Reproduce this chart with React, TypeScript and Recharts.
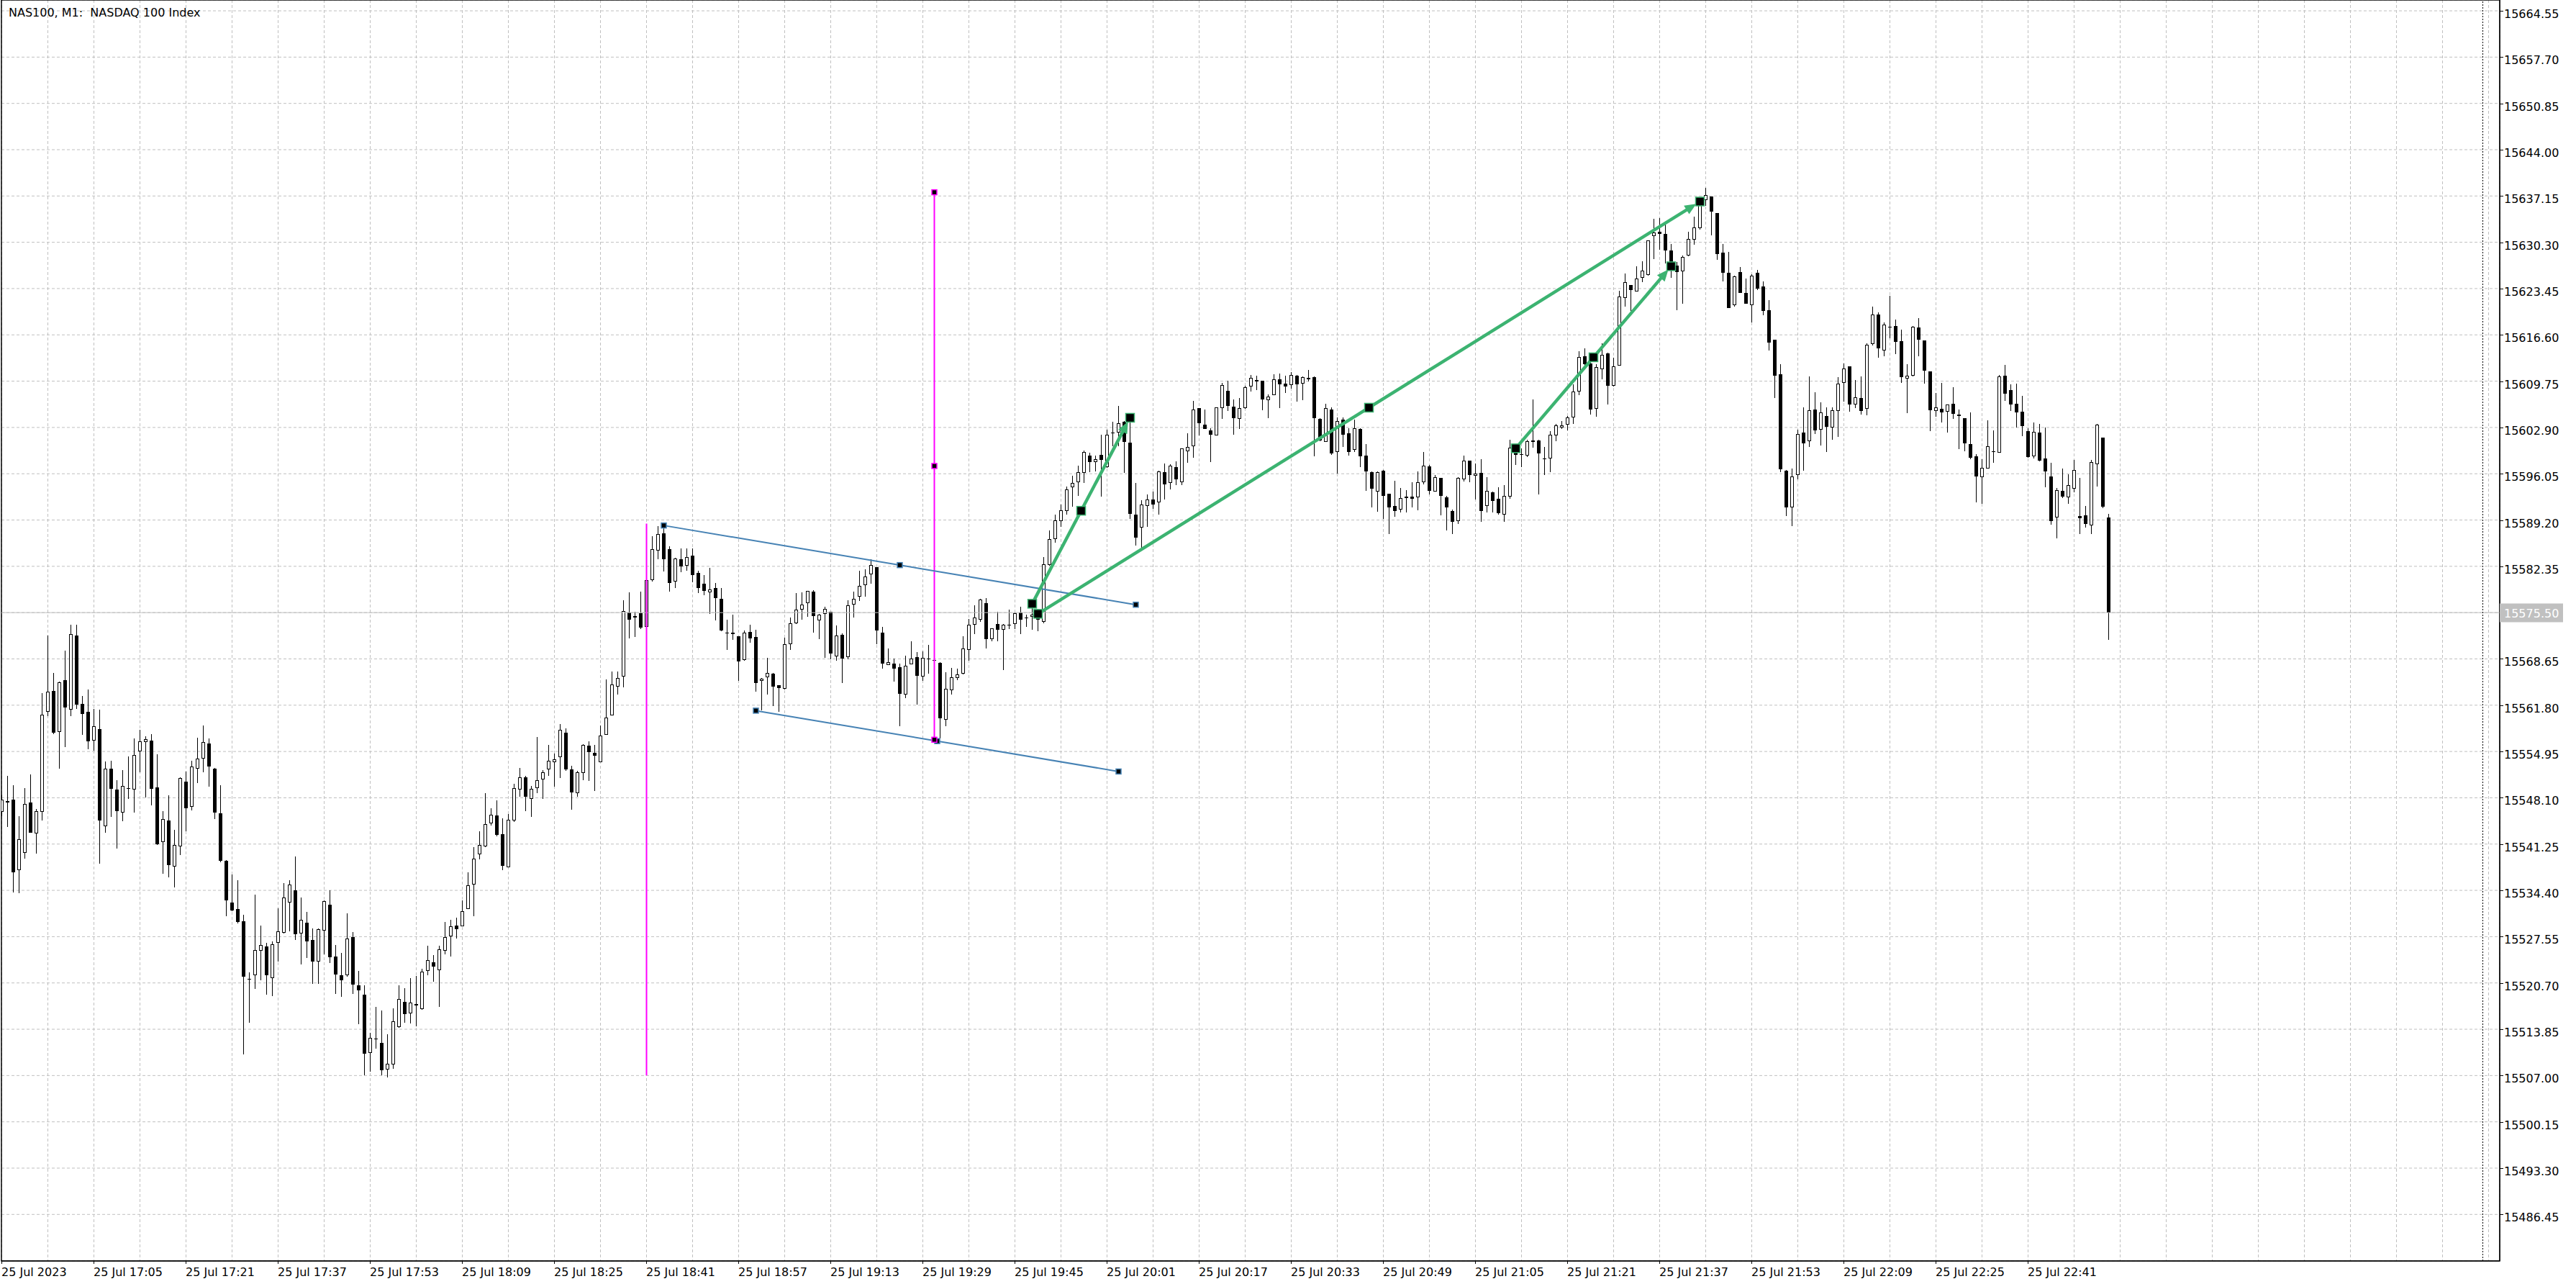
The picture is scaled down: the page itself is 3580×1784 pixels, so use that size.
import React from "react";
import {
  ComposedChart,
  Bar,
  XAxis,
  YAxis,
  CartesianGrid,
  ReferenceLine,
  ReferenceDot,
  ReferenceArea,
} from "recharts";

const FONT = "DejaVu Sans";
const W = 3580;
const H = 1784;
const X_DOMAIN = [-0.0625, 433.9375];
const Y_DOMAIN = [15479.56, 15666.15];
const CURRENT_PRICE = 15575.5;

const TITLE = "NAS100, M1:  NASDAQ 100 Index";

const OPEN = [
  15546.04, 15547.61, 15547.88, 15537.41, 15539.97, 15547.38, 15542.85, 15546.04, 15560.81, 15563.91,
  15557.89, 15565.49, 15561.13, 15572.13, 15561.98, 15560.81, 15556.55, 15558.30, 15543.92, 15552.46,
  15549.36, 15545.95, 15549.58, 15549.36, 15554.93, 15556.32, 15556.59, 15549.63, 15541.50, 15544.69,
  15537.95, 15540.91, 15550.48, 15546.80, 15552.37, 15553.94, 15556.10, 15552.46, 15545.81, 15538.80,
  15532.60, 15531.66, 15529.86, 15521.33, 15521.82, 15525.46, 15526.10, 15521.42, 15526.64, 15528.12,
  15532.57, 15534.36, 15528.04, 15529.60, 15527.09, 15523.86, 15528.46, 15532.31, 15524.62, 15521.88,
  15521.80, 15527.44, 15520.36, 15518.99, 15510.31, 15512.44, 15511.83, 15507.87, 15508.60, 15514.15,
  15517.88, 15516.17, 15517.58, 15516.82, 15522.49, 15523.71, 15522.60, 15525.46, 15527.59, 15529.19,
  15529.11, 15531.66, 15535.28, 15539.77, 15540.91, 15544.33, 15545.51, 15542.73, 15537.83, 15544.71,
  15549.36, 15551.14, 15547.95, 15549.49, 15550.79, 15552.28, 15553.40, 15554.12, 15557.76, 15552.28,
  15548.82, 15551.78, 15555.83, 15554.79, 15553.40, 15557.44, 15560.32, 15564.58, 15566.07, 15575.50,
  15574.74, 15575.37, 15573.43, 15580.26, 15584.66, 15587.22, 15584.84, 15580.08, 15583.41, 15582.42,
  15583.90, 15581.34, 15579.81, 15578.46, 15579.18, 15577.57, 15572.58, 15572.58, 15571.95, 15568.45,
  15572.67, 15571.91, 15565.35, 15565.89, 15566.47, 15564.76, 15564.27, 15570.78, 15573.88, 15575.93,
  15576.88, 15578.59, 15574.36, 15575.29, 15575.61, 15569.01, 15572.20, 15568.90, 15576.67, 15577.84,
  15579.55, 15581.14, 15582.24, 15572.52, 15567.73, 15567.94, 15567.41, 15563.33, 15567.87, 15568.93,
  15566.02, 15568.65, 15568.44, 15568.08, 15559.67, 15564.00, 15565.81, 15566.45, 15569.96, 15573.69,
  15574.44, 15576.92, 15571.53, 15573.83, 15572.91, 15573.73, 15573.80, 15575.50, 15574.72, 15574.83,
  15575.39, 15574.08, 15582.53, 15586.33, 15589.00, 15590.51, 15594.03, 15594.81, 15596.19, 15598.75,
  15597.75, 15598.85, 15597.04, 15602.12, 15602.12, 15603.79, 15600.66, 15590.05, 15588.10, 15591.29,
  15592.29, 15591.79, 15596.33, 15594.67, 15597.04, 15594.81, 15599.39, 15600.13, 15605.78, 15603.36,
  15602.47, 15601.73, 15605.78, 15608.33, 15605.99, 15604.18, 15605.74, 15608.97, 15609.93, 15609.82,
  15606.95, 15607.69, 15610.03, 15609.43, 15609.18, 15610.57, 15609.40, 15610.07, 15610.39, 15604.21,
  15600.77, 15605.60, 15599.28, 15604.07, 15602.08, 15599.56, 15602.72, 15598.75, 15596.33, 15593.42,
  15596.51, 15593.10, 15591.33, 15590.73, 15592.68, 15592.68, 15592.57, 15594.81, 15597.19, 15593.42,
  15595.38, 15592.61, 15590.58, 15589.02, 15595.23, 15598.00, 15595.77, 15596.23, 15591.29, 15593.25,
  15592.36, 15590.02, 15592.68, 15599.63, 15598.96, 15598.75, 15600.77, 15600.98, 15598.36, 15598.32,
  15601.73, 15602.90, 15603.33, 15604.39, 15608.22, 15613.40, 15612.40, 15605.67, 15611.48, 15613.82,
  15609.03, 15612.08, 15622.02, 15623.98, 15623.05, 15625.01, 15625.50, 15631.19, 15631.86, 15631.50,
  15629.05, 15626.85, 15626.00, 15628.31, 15630.65, 15632.36, 15636.55, 15637.04, 15634.59, 15628.73,
  15625.75, 15620.96, 15625.86, 15622.80, 15620.96, 15625.75, 15623.76, 15620.25, 15615.84, 15610.73,
  15596.49, 15591.02, 15595.82, 15602.14, 15600.82, 15605.55, 15602.53, 15604.59, 15602.85, 15605.30,
  15609.45, 15611.94, 15606.26, 15607.25, 15605.66, 15615.21, 15619.61, 15614.29, 15617.84, 15617.91,
  15615.67, 15610.13, 15610.59, 15617.70, 15615.78, 15611.20, 15605.34, 15605.66, 15605.23, 15606.40,
  15604.84, 15604.27, 15600.43, 15598.62, 15595.50, 15596.81, 15599.33, 15599.16, 15610.56, 15608.43,
  15606.40, 15605.23, 15602.35, 15598.62, 15602.14, 15598.30, 15595.64, 15589.57, 15593.51, 15592.55,
  15593.83, 15589.78, 15589.89, 15588.39, 15597.45, 15601.39, 15589.57,
];

const HIGH = [
  15548.55, 15551.34, 15549.99, 15545.41, 15549.58, 15551.56, 15546.44, 15563.55, 15572.09, 15566.61,
  15565.26, 15569.89, 15573.75, 15573.75, 15563.15, 15564.09, 15561.22, 15561.13, 15553.49, 15553.63,
  15550.66, 15552.19, 15554.21, 15556.86, 15558.21, 15557.22, 15557.53, 15554.52, 15546.17, 15548.46,
  15543.34, 15551.11, 15552.01, 15553.58, 15556.95, 15558.79, 15556.91, 15552.50, 15549.99, 15538.85,
  15536.74, 15535.93, 15530.81, 15522.27, 15533.82, 15529.15, 15526.67, 15526.86, 15531.70, 15535.43,
  15535.92, 15539.42, 15533.37, 15531.17, 15528.77, 15528.73, 15532.88, 15534.40, 15526.33, 15525.19,
  15531.05, 15528.20, 15522.53, 15520.40, 15513.36, 15517.20, 15516.67, 15513.13, 15516.97, 15520.40,
  15519.94, 15521.46, 15521.77, 15522.79, 15526.26, 15524.85, 15526.26, 15529.76, 15529.99, 15530.40,
  15532.95, 15537.10, 15540.83, 15543.19, 15548.82, 15546.58, 15547.68, 15545.06, 15545.70, 15550.19,
  15552.55, 15551.30, 15549.89, 15557.13, 15552.19, 15555.96, 15554.61, 15559.06, 15558.34, 15552.86,
  15552.14, 15556.05, 15556.50, 15555.87, 15558.75, 15565.62, 15566.79, 15566.74, 15577.34, 15578.46,
  15575.64, 15578.60, 15580.71, 15586.82, 15588.30, 15588.57, 15585.29, 15583.59, 15584.98, 15584.98,
  15584.98, 15581.70, 15581.03, 15582.10, 15579.86, 15579.14, 15574.42, 15575.19, 15572.00, 15572.85,
  15573.66, 15572.94, 15565.80, 15568.76, 15566.52, 15564.81, 15571.82, 15574.74, 15578.42, 15578.48,
  15578.73, 15578.84, 15575.29, 15576.35, 15575.64, 15573.62, 15572.38, 15577.31, 15578.59, 15581.71,
  15581.89, 15583.38, 15582.28, 15573.41, 15570.18, 15568.69, 15567.98, 15569.08, 15571.24, 15569.64,
  15569.75, 15570.71, 15569.86, 15568.22, 15566.63, 15567.30, 15567.20, 15572.02, 15574.61, 15576.53,
  15577.52, 15577.67, 15573.19, 15575.64, 15573.80, 15575.96, 15575.57, 15576.39, 15575.22, 15576.35,
  15576.00, 15583.70, 15587.64, 15590.00, 15591.50, 15594.20, 15595.80, 15597.29, 15599.49, 15599.21,
  15598.75, 15601.87, 15602.54, 15603.79, 15606.13, 15603.82, 15604.07, 15594.74, 15592.18, 15592.96,
  15593.46, 15596.55, 15597.54, 15597.47, 15597.93, 15599.85, 15602.08, 15606.88, 15605.81, 15605.56,
  15602.79, 15605.92, 15609.54, 15609.82, 15607.05, 15607.27, 15609.08, 15610.67, 15610.53, 15609.86,
  15607.76, 15610.74, 15610.89, 15610.57, 15611.10, 15610.67, 15610.50, 15611.42, 15610.42, 15604.25,
  15606.45, 15605.85, 15604.43, 15604.43, 15602.79, 15604.07, 15602.75, 15600.49, 15596.37, 15596.37,
  15596.62, 15593.14, 15595.06, 15593.99, 15593.57, 15594.84, 15596.37, 15599.32, 15597.40, 15595.87,
  15595.41, 15592.79, 15590.76, 15595.55, 15598.75, 15598.04, 15597.61, 15598.25, 15595.59, 15593.39,
  15594.10, 15594.35, 15601.13, 15600.34, 15599.81, 15601.13, 15607.09, 15601.13, 15599.99, 15602.40,
  15603.43, 15603.89, 15604.64, 15609.25, 15614.20, 15614.60, 15613.00, 15612.30, 15615.31, 15613.93,
  15613.18, 15623.09, 15625.65, 15624.01, 15626.75, 15627.49, 15630.58, 15633.78, 15633.92, 15632.96,
  15630.05, 15627.39, 15628.34, 15631.82, 15634.10, 15636.80, 15638.32, 15637.08, 15634.63, 15630.01,
  15628.88, 15625.33, 15626.64, 15624.94, 15625.57, 15626.18, 15624.47, 15621.70, 15615.88, 15612.26,
  15596.56, 15596.81, 15602.53, 15605.87, 15610.45, 15608.14, 15606.61, 15605.87, 15605.87, 15610.31,
  15612.33, 15611.97, 15609.91, 15610.45, 15615.39, 15620.82, 15619.97, 15618.44, 15622.35, 15618.90,
  15617.38, 15612.30, 15617.94, 15619.12, 15615.81, 15611.23, 15608.04, 15609.53, 15606.33, 15608.89,
  15605.58, 15604.31, 15605.16, 15598.98, 15598.23, 15603.99, 15602.49, 15610.70, 15612.19, 15609.31,
  15609.42, 15607.61, 15602.81, 15603.67, 15603.45, 15602.92, 15597.70, 15593.93, 15596.81, 15595.99,
  15598.13, 15595.43, 15591.31, 15598.13, 15603.42, 15601.43, 15590.13,
];

const LOW = [
  15545.41, 15543.83, 15534.09, 15533.95, 15539.12, 15542.89, 15539.88, 15544.73, 15560.14, 15557.53,
  15552.46, 15555.65, 15560.14, 15561.26, 15557.44, 15555.29, 15555.06, 15538.35, 15542.94, 15545.27,
  15540.60, 15544.64, 15547.97, 15545.90, 15551.83, 15548.10, 15546.98, 15541.14, 15536.87, 15536.33,
  15534.85, 15539.61, 15543.16, 15546.21, 15550.26, 15551.92, 15549.76, 15544.96, 15538.60, 15530.58,
  15531.30, 15529.55, 15510.14, 15514.77, 15519.80, 15521.06, 15518.95, 15518.72, 15523.82, 15528.00,
  15528.39, 15527.06, 15523.40, 15524.39, 15520.59, 15520.59, 15524.89, 15523.63, 15519.03, 15518.61,
  15521.65, 15519.03, 15514.57, 15507.08, 15507.53, 15510.96, 15507.00, 15506.77, 15507.95, 15514.08,
  15514.76, 15514.69, 15514.23, 15516.78, 15521.88, 15520.85, 15517.12, 15524.89, 15524.58, 15527.25,
  15529.07, 15531.62, 15530.56, 15538.97, 15540.76, 15543.99, 15542.39, 15537.37, 15537.79, 15544.56,
  15548.21, 15546.12, 15545.25, 15548.82, 15547.92, 15551.29, 15549.76, 15550.97, 15552.10, 15546.30,
  15548.28, 15550.66, 15550.57, 15549.13, 15553.35, 15557.40, 15560.27, 15563.37, 15564.49, 15571.68,
  15571.91, 15573.12, 15572.72, 15580.08, 15583.45, 15581.61, 15578.64, 15579.18, 15581.43, 15581.74,
  15580.04, 15578.38, 15578.06, 15575.28, 15574.38, 15572.76, 15569.97, 15571.50, 15565.44, 15568.40,
  15571.05, 15563.82, 15561.08, 15563.37, 15561.71, 15560.81, 15564.13, 15569.93, 15573.84, 15574.40,
  15574.93, 15572.52, 15571.63, 15568.86, 15568.58, 15568.33, 15565.03, 15568.58, 15574.72, 15577.17,
  15577.91, 15579.83, 15570.78, 15567.16, 15567.69, 15565.31, 15558.64, 15562.83, 15567.83, 15561.91,
  15565.35, 15566.45, 15567.16, 15556.87, 15558.64, 15563.33, 15565.46, 15566.41, 15568.33, 15572.27,
  15574.08, 15570.14, 15571.31, 15571.31, 15566.95, 15573.12, 15573.12, 15572.34, 15573.37, 15572.91,
  15572.80, 15573.90, 15582.49, 15585.80, 15588.20, 15590.05, 15591.22, 15592.82, 15594.74, 15596.26,
  15596.41, 15592.64, 15596.90, 15600.17, 15600.17, 15596.16, 15589.34, 15585.40, 15585.08, 15588.17,
  15590.87, 15590.02, 15592.22, 15593.71, 15594.35, 15594.38, 15597.65, 15598.39, 15601.69, 15602.69,
  15597.75, 15601.69, 15604.14, 15605.35, 15601.80, 15602.65, 15605.70, 15608.22, 15608.40, 15605.46,
  15604.25, 15607.66, 15605.74, 15608.01, 15608.69, 15606.70, 15606.91, 15609.68, 15598.61, 15600.88,
  15600.74, 15598.82, 15596.05, 15600.06, 15598.71, 15599.24, 15597.01, 15593.49, 15591.05, 15590.41,
  15589.31, 15587.11, 15589.66, 15590.30, 15590.30, 15591.05, 15590.69, 15594.45, 15592.96, 15593.39,
  15589.87, 15587.64, 15587.11, 15588.63, 15594.95, 15594.84, 15592.29, 15588.92, 15590.30, 15590.30,
  15589.95, 15588.95, 15592.36, 15597.33, 15597.01, 15598.53, 15599.88, 15592.96, 15595.84, 15596.26,
  15600.84, 15602.65, 15602.44, 15603.40, 15607.69, 15611.90, 15604.80, 15604.50, 15610.06, 15606.33,
  15608.99, 15612.01, 15620.82, 15620.11, 15623.02, 15624.37, 15625.33, 15627.81, 15629.23, 15627.21,
  15625.08, 15620.28, 15621.24, 15628.27, 15629.98, 15632.18, 15635.66, 15631.36, 15627.74, 15624.54,
  15620.57, 15620.82, 15622.80, 15621.21, 15618.47, 15623.20, 15619.54, 15614.32, 15607.29, 15596.31,
  15589.82, 15588.32, 15595.25, 15596.49, 15600.04, 15601.96, 15600.26, 15599.30, 15601.11, 15601.46,
  15606.72, 15605.26, 15605.80, 15604.77, 15604.66, 15615.07, 15613.19, 15613.40, 15616.06, 15613.72,
  15609.46, 15604.98, 15610.49, 15613.47, 15609.35, 15602.32, 15604.52, 15603.60, 15602.10, 15604.13,
  15599.72, 15599.33, 15598.20, 15591.77, 15591.55, 15596.78, 15597.63, 15599.12, 15606.79, 15605.30,
  15602.85, 15601.57, 15598.45, 15598.27, 15597.84, 15594.01, 15588.54, 15586.44, 15592.41, 15591.55,
  15593.33, 15587.08, 15588.04, 15587.11, 15594.11, 15590.92, 15571.42,
];

const CLOSE = [
  15547.88, 15547.38, 15537.10, 15541.95, 15547.16, 15542.98, 15546.17, 15560.36, 15563.78, 15557.76,
  15565.17, 15561.44, 15572.31, 15561.85, 15560.45, 15556.41, 15558.66, 15544.69, 15552.37, 15549.45,
  15546.17, 15549.81, 15549.49, 15554.43, 15556.41, 15556.73, 15549.45, 15541.23, 15545.00, 15538.17,
  15541.14, 15551.02, 15546.57, 15552.77, 15553.85, 15556.32, 15552.68, 15545.95, 15538.80, 15532.92,
  15531.44, 15529.73, 15521.60, 15521.24, 15525.60, 15526.31, 15521.84, 15526.41, 15528.35, 15533.37,
  15535.28, 15527.89, 15530.06, 15526.83, 15523.82, 15528.65, 15532.80, 15524.47, 15521.92, 15521.08,
  15527.28, 15520.43, 15519.56, 15510.20, 15512.56, 15512.52, 15507.76, 15508.75, 15515.03, 15518.34,
  15516.06, 15517.81, 15517.35, 15522.37, 15524.09, 15523.10, 15525.69, 15527.51, 15529.11, 15528.62,
  15531.32, 15535.16, 15539.12, 15541.14, 15544.22, 15545.59, 15542.58, 15538.02, 15544.87, 15549.55,
  15551.11, 15548.29, 15549.43, 15550.70, 15551.92, 15553.58, 15553.80, 15558.21, 15552.28, 15548.91,
  15551.92, 15555.92, 15554.88, 15554.34, 15557.31, 15559.96, 15564.90, 15565.84, 15575.68, 15574.42,
  15574.96, 15573.30, 15580.26, 15584.84, 15587.09, 15583.36, 15579.90, 15583.54, 15582.33, 15583.77,
  15581.07, 15579.18, 15578.73, 15578.96, 15577.70, 15572.81, 15572.49, 15572.27, 15568.31, 15572.58,
  15571.64, 15565.08, 15565.75, 15566.56, 15564.58, 15564.36, 15570.87, 15573.88, 15575.99, 15576.67,
  15578.69, 15574.97, 15575.18, 15576.10, 15569.40, 15572.09, 15568.69, 15576.57, 15577.49, 15579.44,
  15580.82, 15582.53, 15572.84, 15567.94, 15568.15, 15567.16, 15563.43, 15567.62, 15568.69, 15566.10,
  15568.79, 15568.58, 15568.37, 15559.85, 15564.21, 15565.95, 15566.34, 15570.18, 15573.69, 15574.79,
  15577.42, 15571.53, 15573.16, 15572.91, 15573.69, 15573.65, 15575.39, 15574.47, 15574.65, 15575.18,
  15574.40, 15582.63, 15586.33, 15589.20, 15590.60, 15593.78, 15594.70, 15596.30, 15599.28, 15597.75,
  15598.22, 15598.07, 15601.83, 15602.05, 15603.54, 15600.74, 15590.09, 15586.57, 15591.51, 15592.25,
  15591.47, 15596.44, 15594.49, 15597.29, 15595.20, 15599.81, 15600.03, 15605.56, 15603.50, 15602.72,
  15601.83, 15605.88, 15609.18, 15606.09, 15604.28, 15605.78, 15608.86, 15610.25, 15609.75, 15607.05,
  15607.44, 15610.03, 15609.29, 15608.97, 15610.67, 15609.25, 15610.35, 15610.25, 15604.25, 15600.95,
  15605.78, 15599.03, 15603.86, 15601.83, 15599.24, 15602.79, 15598.61, 15596.37, 15593.81, 15596.33,
  15592.75, 15591.05, 15590.51, 15592.47, 15592.50, 15592.39, 15594.81, 15597.29, 15593.49, 15595.55,
  15592.75, 15591.05, 15588.92, 15595.45, 15598.00, 15595.84, 15596.09, 15590.51, 15593.53, 15592.00,
  15590.19, 15592.79, 15599.92, 15598.85, 15598.82, 15600.88, 15600.98, 15599.03, 15598.21, 15601.83,
  15603.22, 15603.22, 15604.39, 15608.22, 15613.30, 15612.23, 15605.53, 15611.88, 15613.61, 15609.03,
  15611.90, 15622.24, 15624.37, 15623.27, 15624.90, 15626.07, 15630.55, 15631.72, 15631.50, 15629.05,
  15626.68, 15625.86, 15628.10, 15630.76, 15632.53, 15636.26, 15637.33, 15634.81, 15628.52, 15625.82,
  15620.60, 15625.22, 15622.84, 15621.24, 15625.33, 15623.44, 15620.18, 15615.49, 15610.59, 15596.74,
  15591.09, 15595.60, 15601.92, 15600.58, 15605.44, 15602.49, 15605.12, 15603.03, 15605.40, 15609.35,
  15611.58, 15606.33, 15607.32, 15605.37, 15615.14, 15619.61, 15614.57, 15618.12, 15617.66, 15615.53,
  15610.31, 15610.56, 15617.80, 15615.85, 15611.27, 15605.41, 15605.87, 15605.12, 15606.29, 15604.87,
  15604.55, 15600.51, 15598.37, 15595.60, 15596.92, 15600.11, 15599.40, 15610.45, 15607.86, 15606.26,
  15605.09, 15603.06, 15598.48, 15602.25, 15597.95, 15596.35, 15589.03, 15593.61, 15592.66, 15594.36,
  15596.60, 15589.46, 15588.61, 15597.73, 15603.28, 15591.16, 15575.50,
];

const PRICE_TICKS = [
  15664.55, 15657.7, 15650.85, 15644.0, 15637.15, 15630.3, 15623.45, 15616.6, 15609.75,
  15602.9, 15596.05, 15589.2, 15582.35, 15575.5, 15568.65, 15561.8, 15554.95, 15548.1,
  15541.25, 15534.4, 15527.55, 15520.7, 15513.85, 15507.0, 15500.15, 15493.3, 15486.45,
];

const TIME_LABELS = [
  "25 Jul 2023", "25 Jul 17:05", "25 Jul 17:21", "25 Jul 17:37", "25 Jul 17:53", "25 Jul 18:09",
  "25 Jul 18:25", "25 Jul 18:41", "25 Jul 18:57", "25 Jul 19:13", "25 Jul 19:29", "25 Jul 19:45",
  "25 Jul 20:01", "25 Jul 20:17", "25 Jul 20:33", "25 Jul 20:49", "25 Jul 21:05", "25 Jul 21:21",
  "25 Jul 21:37", "25 Jul 21:53", "25 Jul 22:09", "25 Jul 22:25", "25 Jul 22:41",
];
const LABEL_STEP = 16; // bars between time labels
const GRID_STEP = 8; // bars between vertical grid lines
const GRID_LAST = 432;
const SHIFT_MARKER = 431;

// drawn objects (bar index, price)
const CHANNEL_UPPER = [{ i: 115, p: 15588.39 }, { i: 197, p: 15576.67 }];
const CHANNEL_LOWER = [{ i: 131, p: 15560.99 }, { i: 194, p: 15551.99 }];
const VLINE_1 = [{ i: 112, p: 15507.0 }, { i: 112, p: 15588.68 }];
const VLINE_2 = [{ i: 162, p: 15556.69 }, { i: 162, p: 15637.7 }];
const ARROW_A = [{ i: 179, p: 15576.81 }, { i: 196, p: 15604.33 }];
const ARROW_B = [{ i: 180, p: 15575.32 }, { i: 295, p: 15636.33 }];
const ARROW_C = [{ i: 263, p: 15599.81 }, { i: 290, p: 15626.75 }];

const GREEN = "#3cb371";
const BLUE = "#4682b4";
const MAGENTA = "#ff00ff";
const GRID = "#c0c0c0";

const data = OPEN.map((o, i) => ({ i, o, h: HIGH[i], l: LOW[i], c: CLOSE[i] }));

const xTicks: number[] = [];
for (let k = 0; k <= GRID_LAST; k += GRID_STEP) xTicks.push(k);
const LABEL_AT: Record<number, string> = {};
TIME_LABELS.forEach((t, n) => {
  LABEL_AT[n * LABEL_STEP] = t;
});

function Candle(props: any) {
  const { x, y, width, height, payload } = props;
  if (!payload || x == null) return <g />;
  const { o, h, l, c } = payload;
  const cx = Math.floor(x + width / 2) + 0.5;
  const top = Math.min(y, y + height);
  const bot = Math.max(y, y + height);
  const span = h - l || 1;
  const py = (v: number) => bot - ((v - l) / span) * (bot - top);
  const yHigh = Math.round(top);
  const yLow = Math.round(bot);
  const bt = Math.round(py(Math.max(o, c)));
  let bb = Math.round(py(Math.min(o, c)));
  if (bb - bt < 1) bb = bt + 1;
  const bull = c > o;
  return (
    <g>
      <line x1={cx} x2={cx} y1={yHigh} y2={Math.max(yLow, yHigh + 1)} stroke="#000" strokeWidth={1} />
      {bull && bb - bt >= 3 ? (
        <rect x={cx - 2} y={bt + 0.5} width={4} height={bb - bt - 1} fill="#fff" stroke="#000" strokeWidth={1} />
      ) : (
        <rect x={cx - 2.5} y={bt} width={5} height={bb - bt} fill="#000" />
      )}
    </g>
  );
}

function XTick(props: any) {
  const { x, y, payload } = props;
  const label = LABEL_AT[payload.value];
  if (!label) return <g />;
  const tx = Math.floor(x) + 0.5;
  return (
    <g>
      <line x1={tx} x2={tx} y1={y} y2={y + 4} stroke="#000" strokeWidth={1} />
      <text x={tx - 0.5} y={y + 21} fontFamily={FONT} fontSize={16} fill="#000">
        {label}
      </text>
    </g>
  );
}

function YTick(props: any) {
  const { x, y, payload } = props;
  const v = payload.value as number;
  const ty = Math.round(y) + 0.5;
  if (Math.abs(v - CURRENT_PRICE) < 1e-6) {
    return (
      <g>
        <rect x={x} y={ty - 13} width={88} height={26} fill={GRID} />
        <text x={x + 6} y={ty + 6} fontFamily={FONT} fontSize={16} fill="#fff">
          {v.toFixed(2)}
        </text>
      </g>
    );
  }
  return (
    <g>
      <line x1={x} x2={x + 5} y1={ty} y2={ty} stroke="#000" strokeWidth={1} />
      <text x={x + 6} y={y + 10} fontFamily={FONT} fontSize={16} fill="#000">
        {v.toFixed(2)}
      </text>
    </g>
  );
}

function arrowShape(props: any) {
  const { x1, y1, x2, y2 } = props;
  const dx = x2 - x1;
  const dy = y2 - y1;
  const len = Math.hypot(dx, dy) || 1;
  const ux = dx / len;
  const uy = dy / len;
  const tipX = x2 - ux * 6;
  const tipY = y2 - uy * 6;
  const bx = tipX - ux * 16;
  const by = tipY - uy * 16;
  const nx = -uy;
  const ny = ux;
  return (
    <g>
      <line x1={x1} y1={y1} x2={bx + ux * 2} y2={by + uy * 2} stroke={GREEN} strokeWidth={4.5} />
      <polygon
        points={`${tipX},${tipY} ${bx + nx * 7},${by + ny * 7} ${bx - nx * 7},${by - ny * 7}`}
        fill={GREEN}
      />
    </g>
  );
}

const squareShape = (size: number, stroke: string, sw: number) => (p: any) => (
  <rect
    x={p.cx - size / 2}
    y={p.cy - size / 2}
    width={size}
    height={size}
    fill="#000"
    stroke={stroke}
    strokeWidth={sw}
  />
);

const mid = (s: { i: number; p: number }[]) => ({ i: (s[0].i + s[1].i) / 2, p: (s[0].p + s[1].p) / 2 });
const anchors = (s: { i: number; p: number }[]) => [s[0], mid(s), s[1]];

const seg = (s: { i: number; p: number }[]) => [
  { x: s[0].i, y: s[0].p },
  { x: s[1].i, y: s[1].p },
];

export default function App() {
  return (
    <div style={{ position: "absolute", left: 0, top: 0, width: W, height: H, background: "#fff" }}>
      <ComposedChart
        width={W}
        height={H}
        data={data}
        margin={{ top: 0, right: 0, bottom: 0, left: 2 }}
      >
        <CartesianGrid stroke={GRID} strokeDasharray="4 3" strokeWidth={1} />
        <XAxis
          dataKey="i"
          type="number"
          domain={X_DOMAIN}
          allowDataOverflow
          ticks={xTicks}
          interval={0}
          tick={<XTick />}
          tickLine={false}
          tickSize={0}
          tickMargin={0}
          height={32}
          axisLine={{ stroke: "#000", strokeWidth: 1 }}
        />
        <YAxis
          orientation="right"
          type="number"
          domain={Y_DOMAIN}
          allowDataOverflow
          ticks={PRICE_TICKS}
          interval={0}
          tick={<YTick />}
          tickLine={false}
          tickSize={0}
          tickMargin={0}
          width={106}
          axisLine={{ stroke: "#000", strokeWidth: 1 }}
        />
        <ReferenceArea
          x1={X_DOMAIN[0]}
          x2={X_DOMAIN[1]}
          y1={Y_DOMAIN[0]}
          y2={Y_DOMAIN[1]}
          fill="none"
          fillOpacity={0}
          stroke="#000"
          strokeWidth={1.5}
          ifOverflow="extendDomain"
        />
        <ReferenceLine y={CURRENT_PRICE} stroke={GRID} strokeWidth={1} />
        <ReferenceLine x={SHIFT_MARKER} stroke="#000" strokeDasharray="2 2" strokeWidth={1} />
        <Bar
          dataKey={(d: any) => [d.l, d.h]}
          barSize={6}
          isAnimationActive={false}
          shape={(p: any) => <Candle {...p} />}
        />
        <ReferenceLine segment={seg(VLINE_1)} stroke={MAGENTA} strokeWidth={2} />
        <ReferenceLine segment={seg(VLINE_2)} stroke={MAGENTA} strokeWidth={2} />
        <ReferenceLine segment={seg(CHANNEL_UPPER)} stroke={BLUE} strokeWidth={2} />
        <ReferenceLine segment={seg(CHANNEL_LOWER)} stroke={BLUE} strokeWidth={2} />
        <ReferenceLine segment={seg(ARROW_A)} shape={arrowShape} />
        <ReferenceLine segment={seg(ARROW_B)} shape={arrowShape} />
        <ReferenceLine segment={seg(ARROW_C)} shape={arrowShape} />
        {[...anchors(CHANNEL_UPPER), ...anchors(CHANNEL_LOWER)].map((a, n) => (
          <ReferenceDot key={`cb${n}`} x={a.i} y={a.p} r={4} shape={squareShape(7, BLUE, 1.5)} />
        ))}
        {anchors(VLINE_2).map((a, n) => (
          <ReferenceDot key={`mg${n}`} x={a.i} y={a.p} r={4} shape={squareShape(7, MAGENTA, 1.5)} />
        ))}
        {[...anchors(ARROW_A), ...anchors(ARROW_B), ...anchors(ARROW_C)].map((a, n) => (
          <ReferenceDot key={`gr${n}`} x={a.i} y={a.p} r={6} shape={squareShape(12, GREEN, 1.5)} />
        ))}
      </ComposedChart>
      <svg
        width={W}
        height={40}
        style={{ position: "absolute", left: 0, top: 0, pointerEvents: "none" }}
      >
        <text x={12} y={23} fontFamily={FONT} fontSize={16} fill="#000" style={{ whiteSpace: "pre" }}>
          {TITLE}
        </text>
      </svg>
    </div>
  );
}
